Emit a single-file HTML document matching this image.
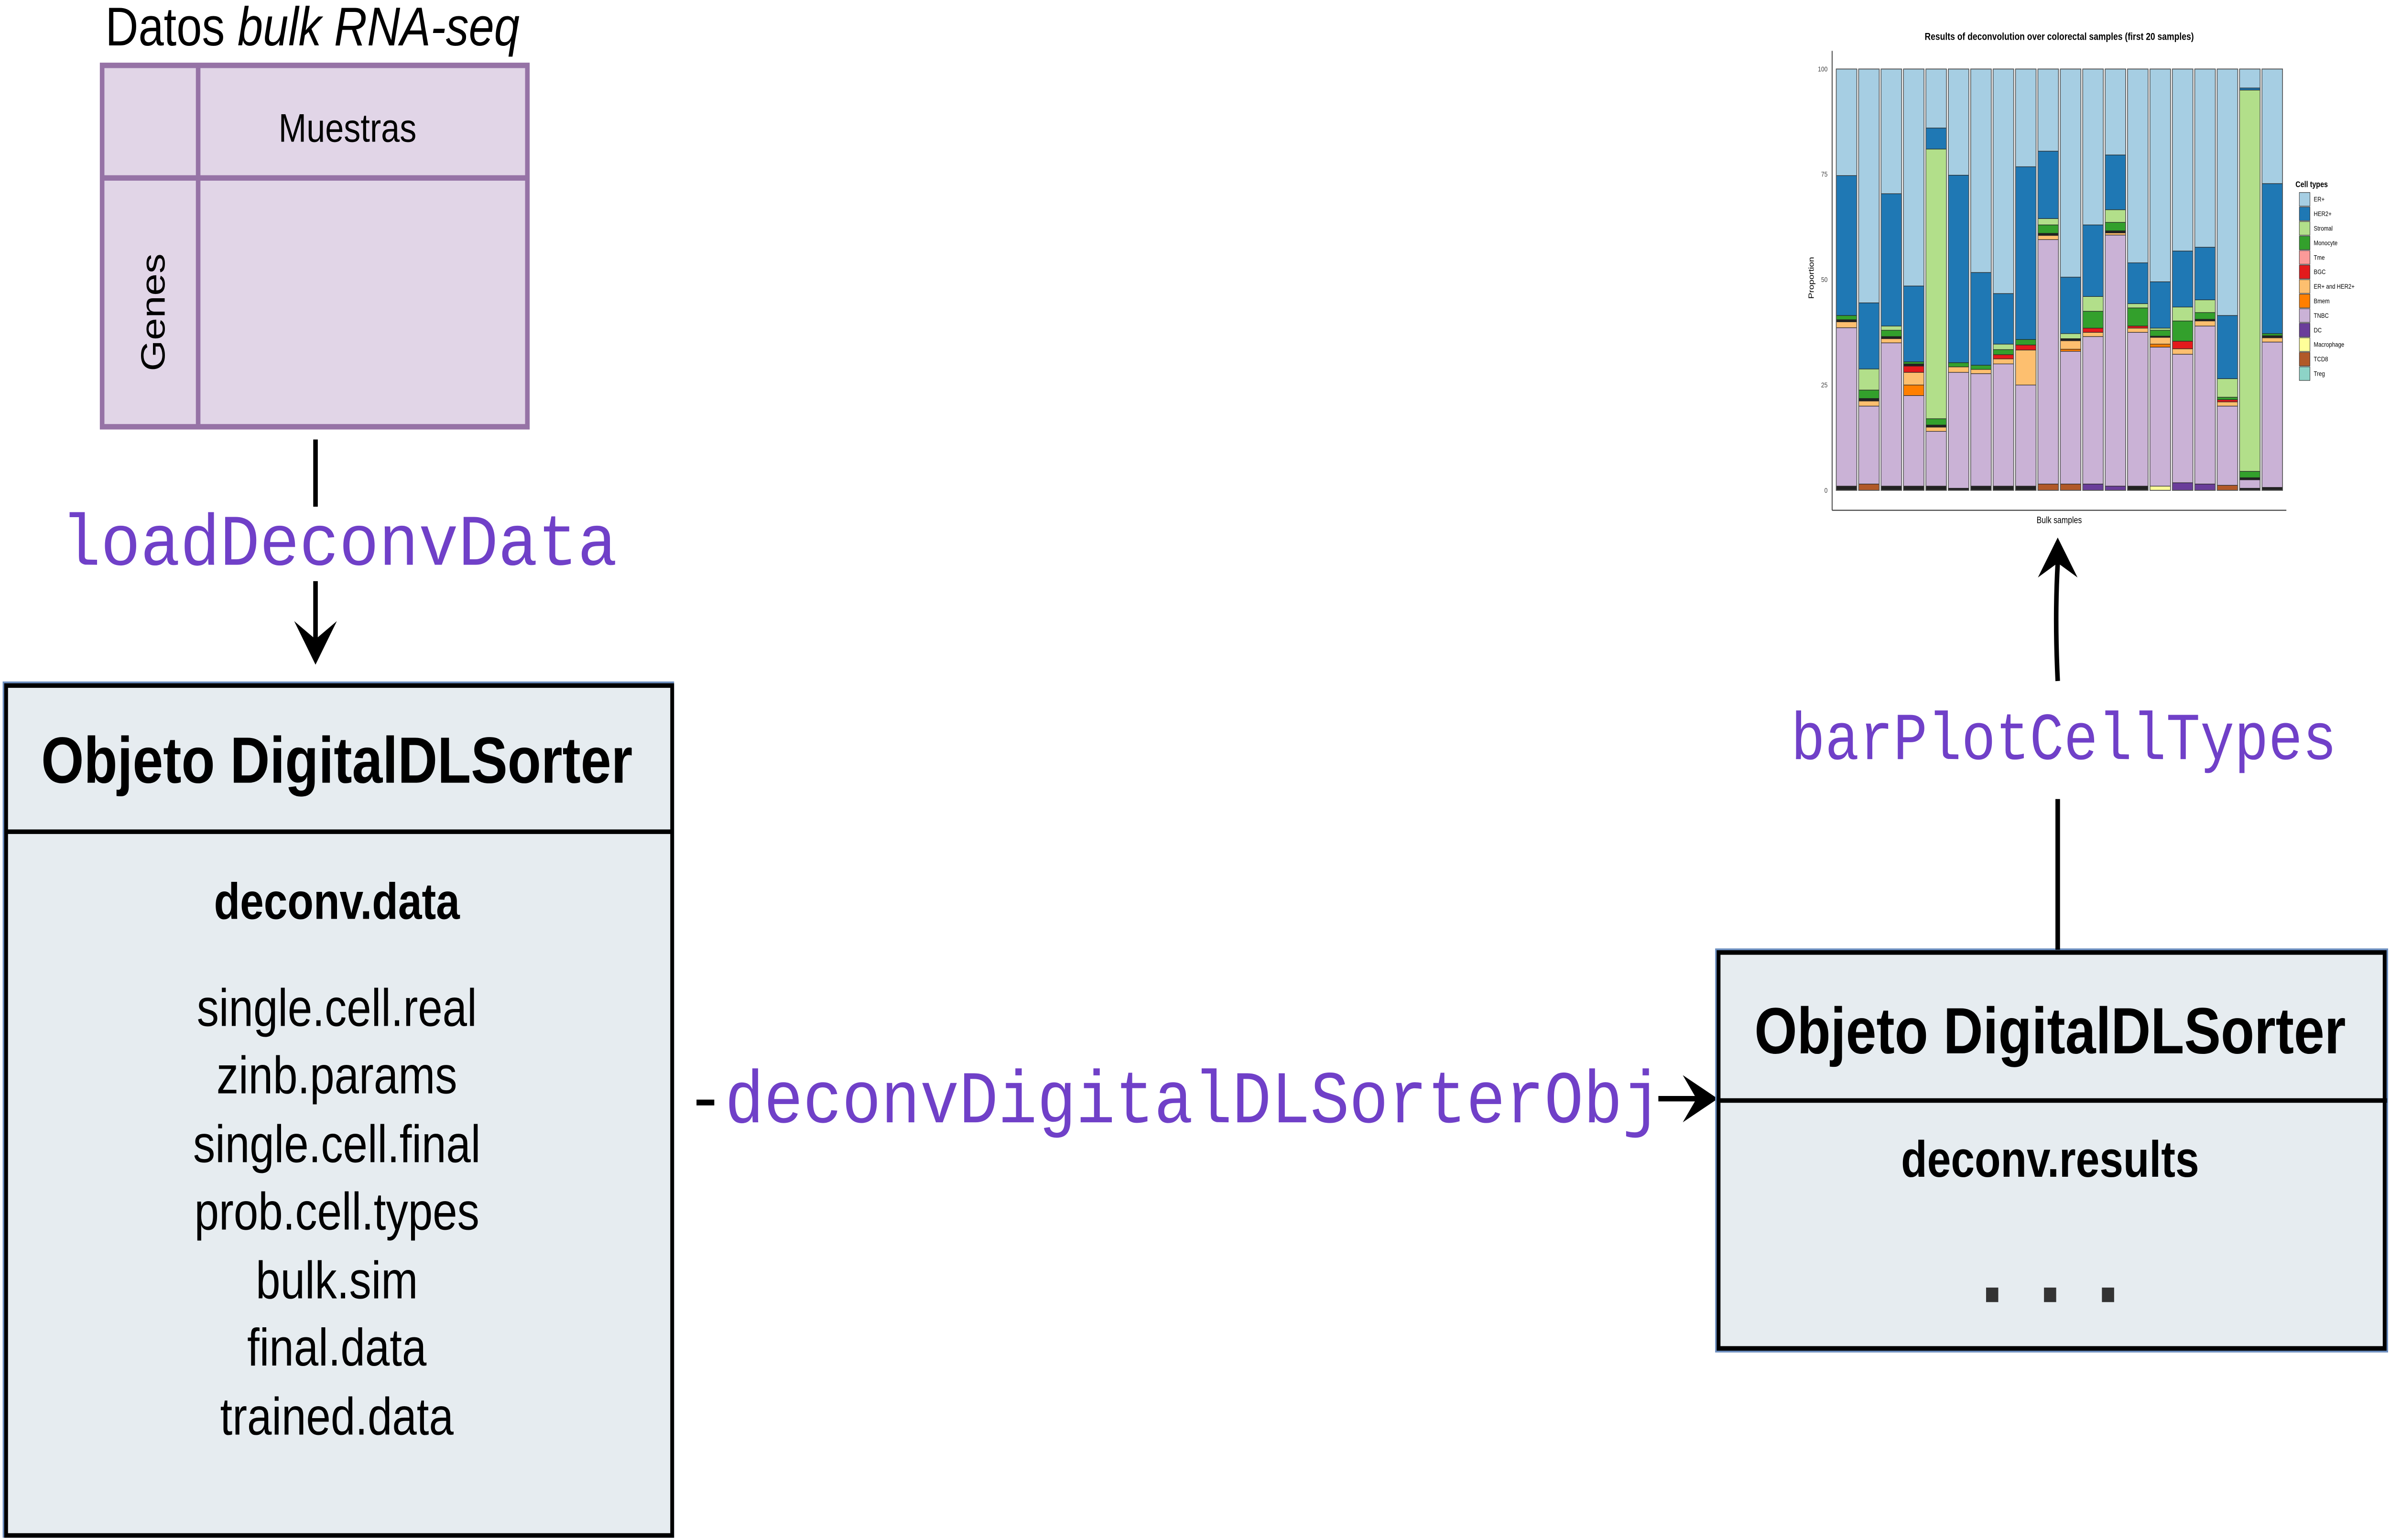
<!DOCTYPE html>
<html><head><meta charset="utf-8"><style>
html,body{margin:0;padding:0;background:#fff;width:100%;height:100%;overflow:hidden;}
svg{display:block;width:100vw;height:100vh;}
</style></head><body>
<svg id="s" xmlns="http://www.w3.org/2000/svg" viewBox="0 0 1568 848" preserveAspectRatio="none">
<rect width="1568" height="848" fill="#fff"/>
<!-- bulk table -->
<text x="205" y="25" font-family="Liberation Sans, sans-serif" font-size="30" text-anchor="middle">Datos <tspan font-style="italic">bulk RNA-seq</tspan></text>
<rect x="67" y="36" width="279" height="199" fill="#e1d5e7" stroke="#9673a6" stroke-width="3"/>
<line x1="130" y1="36" x2="130" y2="235" stroke="#9673a6" stroke-width="3"/>
<line x1="67" y1="98" x2="346" y2="98" stroke="#9673a6" stroke-width="3"/>
<text x="228" y="78" font-family="Liberation Sans, sans-serif" font-size="22" text-anchor="middle">Muestras</text>
<text transform="translate(108,172) rotate(-90)" font-family="Liberation Sans, sans-serif" font-size="22" text-anchor="middle">Genes</text>
<line x1="207" y1="242" x2="207" y2="279" stroke="#000" stroke-width="3"/>
<text x="40" y="311" font-family="Liberation Mono, monospace" font-size="40" fill="#7040c8" textLength="365" lengthAdjust="spacingAndGlyphs">loadDeconvData</text>
<line x1="207" y1="320" x2="207" y2="358" stroke="#000" stroke-width="3"/>
<path d="M193,342 L207,366 L221,342 L207,352 Z" fill="#000"/>
<!-- left box -->
<rect x="2.5" y="376" width="439" height="470" fill="#e6ecf0" stroke="#6c8ebf" stroke-width="1.5"/>
<rect x="4" y="377.5" width="437" height="468" fill="none" stroke="#000" stroke-width="2.5"/>
<line x1="3" y1="458" x2="441" y2="458" stroke="#000" stroke-width="2.5"/>
<g font-family="Liberation Sans, sans-serif" text-anchor="middle">
<text x="221" y="431" font-size="36" font-weight="bold">Objeto DigitalDLSorter</text>
<text x="221" y="506" font-size="28" font-weight="bold">deconv.data</text>
<text x="221" y="565" font-size="29">single.cell.real</text>
<text x="221" y="602" font-size="29">zinb.params</text>
<text x="221" y="640" font-size="29">single.cell.final</text>
<text x="221" y="677" font-size="29">prob.cell.types</text>
<text x="221" y="715" font-size="29">bulk.sim</text>
<text x="221" y="752" font-size="29">final.data</text>
<text x="221" y="790" font-size="29">trained.data</text>
</g>
<!-- middle -->
<text x="450" y="618" font-family="Liberation Mono, monospace" font-size="41" fill="#7040c8" textLength="640" lengthAdjust="spacingAndGlyphs"><tspan fill="#000">-</tspan>deconvDigitalDLSorterObj</text>
<line x1="1088" y1="605" x2="1118" y2="605" stroke="#000" stroke-width="3"/>
<path d="M1104,592 L1127,605 L1104,618 L1113,605 Z" fill="#000"/>
<!-- right box -->
<rect x="1126" y="523" width="440" height="221" fill="#e6ecf0" stroke="#6c8ebf" stroke-width="1.5"/>
<rect x="1127.5" y="524.5" width="437" height="218" fill="none" stroke="#000" stroke-width="2.5"/>
<line x1="1127" y1="606" x2="1566" y2="606" stroke="#000" stroke-width="2.5"/>
<g font-family="Liberation Sans, sans-serif" text-anchor="middle">
<text x="1345" y="580" font-size="36" font-weight="bold">Objeto DigitalDLSorter</text>
<text x="1345" y="648" font-size="28" font-weight="bold">deconv.results</text>
</g>
<rect x="1303" y="709" width="8" height="8" fill="#333"/>
<rect x="1341" y="709" width="8" height="8" fill="#333"/>
<rect x="1379" y="709" width="8" height="8" fill="#333"/>
<line x1="1350" y1="523" x2="1350" y2="440" stroke="#000" stroke-width="3"/>
<text x="1175" y="418" font-family="Liberation Mono, monospace" font-size="37" fill="#7040c8" textLength="358" lengthAdjust="spacingAndGlyphs">barPlotCellTypes</text>
<path d="M1350,375 Q1348,340 1350,310" stroke="#000" stroke-width="3" fill="none"/>
<path d="M1337,318 L1350,296 L1363,318 L1350,310 Z" fill="#000"/>
<!-- chart -->
<g id="chart"></g>
</svg>
<script>
var C={ER:"#a6cee3",HE:"#1f78b4",ST:"#b2df8a",MO:"#33a02c",TM:"#fb9a99",BG:"#e31a1c",EH:"#fdbf6f",BM:"#ff7f00",TN:"#cab2d6",DC:"#6a3d9a",MA:"#ffff99",T8:"#b15928",TR:"#8dd3c7",K:"#222"};
var bars=[
[["K",1],["TN",37.6],["EH",1.4],["K",.5],["MO",1],["HE",33.2]],
[["T8",1.5],["TN",18.5],["EH",1.2],["K",.6],["MO",2],["ST",5],["HE",15.7]],
[["K",1],["TN",34],["EH",1],["K",.5],["MO",1.5],["ST",1],["HE",31.4]],
[["K",1],["TN",21.5],["BM",2.5],["EH",3],["BG",1.5],["K",.5],["MO",.5],["HE",18]],
[["K",1],["TN",13],["EH",1],["K",.5],["MO",1.5],["ST",64],["HE",5]],
[["K",.5],["TN",27.5],["EH",1.3],["MO",1],["HE",44.5]],
[["K",1],["TN",26.7],["EH",1],["MO",1],["HE",22]],
[["K",1],["TN",29],["EH",1.2],["BG",1],["MO",1.2],["ST",1.3],["HE",12]],
[["K",1],["TN",24],["EH",8.3],["BG",1.2],["MO",1.3],["HE",41]],
[["T8",1.5],["TN",58],["EH",1],["K",.5],["MO",2],["ST",1.5],["HE",16]],
[["T8",1.5],["TN",31.5],["BM",.5],["EH",2],["K",.5],["ST",1.2],["HE",13.4]],
[["DC",1.5],["TN",35],["EH",1],["BG",1],["MO",4],["ST",3.5],["HE",17]],
[["DC",1],["TN",59.6],["EH",.5],["K",.5],["MO",2],["ST",3],["HE",13]],
[["K",1],["TN",36.5],["EH",1],["BG",.5],["MO",4.3],["ST",1],["HE",9.7]],
[["MA",1],["TN",33],["BM",.7],["EH",1.6],["K",.3],["MO",1.4],["ST",.5],["HE",11]],
[["DC",1.8],["TN",30.5],["EH",1.3],["BG",1.8],["MO",4.8],["ST",3.3],["HE",13.3]],
[["DC",1.5],["TN",37.5],["EH",1.2],["K",.4],["MO",1.6],["ST",3],["HE",12.5]],
[["T8",1.2],["TN",18.8],["EH",1],["BG",.5],["MO",.6],["ST",4.4],["HE",15]],
[["K",.5],["TN",2],["K",.5],["MO",1.5],["ST",90.5],["HE",.5]],
[["K",.7],["TN",34.5],["EH",1],["K",.5],["MO",.5],["HE",35.6]]
];
var g=document.getElementById("chart"),h="",y0=270,sc=2.32;
h+='<text x="1351" y="22" font-family="Liberation Sans, sans-serif" font-size="5.5" font-weight="bold" text-anchor="middle">Results of deconvolution over colorectal samples (first 20 samples)</text>';
h+='<line x1="1202" y1="28" x2="1202" y2="281" stroke="#444" stroke-width="0.6"/><line x1="1202" y1="281" x2="1500" y2="281" stroke="#444" stroke-width="0.6"/>';
["0","25","50","75","100"].forEach(function(t,i){var y=y0-i*25*sc;h+='<text x="1199" y="'+(y+1.3)+'" font-family="Liberation Sans, sans-serif" font-size="3.8" text-anchor="end" fill="#444">'+t+'</text>';});
h+='<text transform="translate(1190,153) rotate(-90)" font-family="Liberation Sans, sans-serif" font-size="5" text-anchor="middle">Proportion</text>';
h+='<text x="1351" y="288" font-family="Liberation Sans, sans-serif" font-size="5" text-anchor="middle">Bulk samples</text>';
bars.forEach(function(b,i){var x=1204.7+i*14.7,w=13.5,acc=0;
 b.forEach(function(s){var y=y0-(acc+s[1])*sc;h+='<rect x="'+x+'" y="'+y+'" width="'+w+'" height="'+(s[1]*sc)+'" fill="'+C[s[0]]+'" stroke="#222" stroke-width="0.3"/>';acc+=s[1];});
 var r=100-acc;h+='<rect x="'+x+'" y="'+(y0-100*sc)+'" width="'+w+'" height="'+(r*sc)+'" fill="'+C.ER+'" stroke="#222" stroke-width="0.3"/>';
 h+='<rect x="'+x+'" y="'+(y0-100*sc)+'" width="'+w+'" height="'+(100*sc)+'" fill="none" stroke="#555" stroke-width="0.5"/>';
});
h+='<text x="1506" y="103" font-family="Liberation Sans, sans-serif" font-size="4.5" font-weight="bold">Cell types</text>';
[["ER","ER+"],["HE","HER2+"],["ST","Stromal"],["MO","Monocyte"],["TM","Tme"],["BG","BGC"],["EH","ER+ and HER2+"],["BM","Bmem"],["TN","TNBC"],["DC","DC"],["MA","Macrophage"],["T8","TCD8"],["TR","Treg"]].forEach(function(l,i){var y=106+i*8;
 h+='<rect x="1508.5" y="'+y+'" width="7" height="7.5" fill="'+C[l[0]]+'" stroke="#333" stroke-width="0.3"/>';
 h+='<text x="1518" y="'+(y+5)+'" font-family="Liberation Sans, sans-serif" font-size="3.6">'+l[1]+'</text>';});
g.innerHTML=h;
</script>
</body></html>
